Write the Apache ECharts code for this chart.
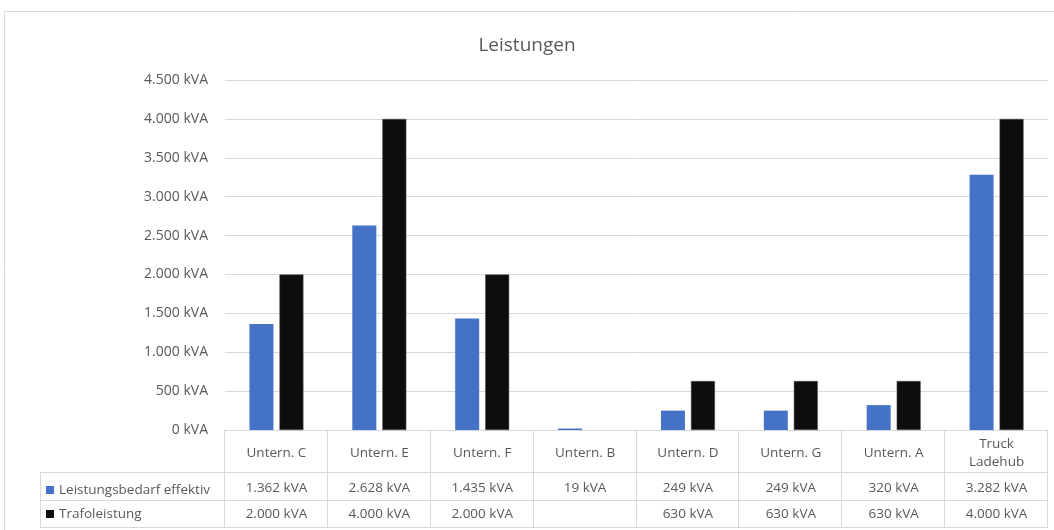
<!DOCTYPE html>
<html>
<head>
<meta charset="UTF-8">
<script src="https://cdn.jsdelivr.net/npm/echarts@6/dist/echarts.min.js"></script>
<style>
  body { margin: 0; padding: 0; background: #fff; }
</style>
</head>
<body>
<div id="main" style="width:1054px;height:530px;"></div>
<script>
  var categories = ['Untern. C', 'Untern. E', 'Untern. F', 'Untern. B', 'Untern. D', 'Untern. G', 'Untern. A', 'Truck\nLadehub'];
  var leistungsbedarf = [1362, 2628, 1435, 19, 249, 249, 320, 3282];
  var trafoleistung = [2000, 4000, 2000, null, 630, 630, 630, 4000];
  var seriesNames = ['Leistungsbedarf effektiv', 'Trafoleistung'];

  var FONT = '"Open Sans", "Liberation Sans", sans-serif';
  var TXT = '#595959';
  var LINE = '#d9d9d9';

  // plot area
  var L = 225, R = 1048, T = 80, B = 430;
  var rowH = [472, 500, 527];
  var tableLeft = 40;

  function fmt(v) {
    if (v === null || v === undefined) return '';
    return String(v).replace(/\B(?=(\d{3})+(?!\d))/g, '.') + ' kVA';
  }

  var chart = echarts.init(document.getElementById('main'));

  // table lines
  var lines = [];
  function hl(x1, x2, y) {
    lines.push({ type: 'line', silent: true, shape: { x1: x1, y1: y + 0.5, x2: x2, y2: y + 0.5 }, style: { stroke: LINE, lineWidth: 1 } });
  }
  function vl(x, y1, y2) {
    lines.push({ type: 'line', silent: true, shape: { x1: x + 0.5, y1: y1, x2: x + 0.5, y2: y2 }, style: { stroke: LINE, lineWidth: 1 } });
  }
  var cw = (R - L) / categories.length;
  hl(L, R, B);
  hl(tableLeft, R, rowH[0]);
  hl(tableLeft, R, rowH[1]);
  hl(tableLeft, R, rowH[2]);
  for (var i = 0; i <= categories.length; i++) {
    vl(Math.round(L + i * cw) - 1, B, rowH[2] + 1);
  }
  vl(tableLeft, rowH[0], rowH[2] + 1);
  // outer chart border
  lines.push({ type: 'rect', silent: true, shape: { x: 4.5, y: 11.5, width: 1060, height: 530 }, style: { fill: null, stroke: LINE, lineWidth: 1 } });

  function tableAxis(offset, formatter) {
    return {
      type: 'category',
      data: categories,
      position: 'bottom',
      offset: offset,
      axisLine: { show: false },
      axisTick: { show: false },
      splitLine: { show: false },
      axisLabel: {
        interval: 0,
        margin: 0,
        color: TXT,
        fontFamily: FONT,
        fontSize: 13.5,
        lineHeight: 18,
        verticalAlign: 'middle',
        formatter: formatter
      }
    };
  }

  var option = {
    animation: false,
    backgroundColor: '#fff',
    title: {
      text: 'Leistungen',
      left: 'center',
      top: 31,
      textStyle: { color: TXT, fontFamily: FONT, fontSize: 19, fontWeight: 'normal' }
    },
    legend: {
      orient: 'vertical',
      left: 41,
      top: 478,
      itemWidth: 8,
      itemHeight: 8,
      itemGap: 10,
      icon: 'rect',
      itemStyle: { borderWidth: 0 },
      textStyle: { color: TXT, fontFamily: FONT, fontSize: 13.5 },
      data: seriesNames
    },
    grid: { left: L, right: 1054 - R, top: T, bottom: 530 - B },
    xAxis: [
      tableAxis(23, function (v) { return v; }),
      tableAxis(58, function (v, idx) { return fmt(leistungsbedarf[idx]); }),
      tableAxis(84, function (v, idx) { return fmt(trafoleistung[idx]); })
    ],
    yAxis: {
      type: 'value',
      min: 0,
      max: 4500,
      interval: 500,
      axisLine: { show: false },
      axisTick: { show: false },
      splitLine: { lineStyle: { color: LINE, width: 1 } },
      axisLabel: { color: TXT, fontFamily: FONT, fontSize: 14, margin: 17, formatter: fmt }
    },
    series: [
      {
        name: seriesNames[0],
        type: 'bar',
        xAxisIndex: 0,
        data: leistungsbedarf,
        barWidth: 24,
        barGap: '25%',
        itemStyle: { color: '#4472c4' }
      },
      {
        name: seriesNames[1],
        type: 'bar',
        xAxisIndex: 0,
        data: trafoleistung,
        barWidth: 24,
        barGap: '25%',
        itemStyle: { color: '#0d0d0d', borderColor: '#555', borderWidth: 0.5 }
      }
    ],
    graphic: lines
  };
  chart.setOption(option);
</script>
</body>
</html>
